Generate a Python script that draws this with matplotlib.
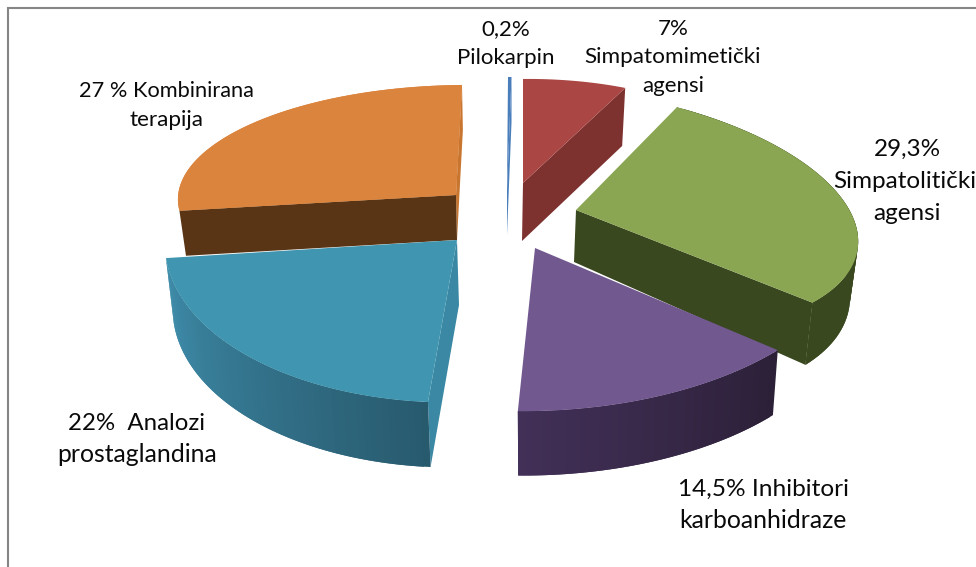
"""Exploded 3D pie of glaucoma drug shares, drawn as plain polygons in pixel space."""
import matplotlib

matplotlib.use("Agg")
import matplotlib.pyplot as plt
import numpy as np
from matplotlib.colors import to_rgb

plt.rcParams["font.family"] = ["Lato", "DejaVu Sans"]

NAMES = ["Pilokarpin", "Simpatomimetički agensi", "Simpatolitički agensi",
         "Inhibitori karboanhidraze", "Analozi prostaglandina", "Kombinirana terapija"]
VALUES = [0.2, 7.0, 29.3, 14.5, 22.0, 27.0]

# text lines of each label, with their centre positions and sizes in separate lists
LABEL_LINES = ["0,2%", "Pilokarpin", "7%", "Simpatomimetički", "agensi",
               "29,3%", "Simpatolitički", "agensi", "14,5% Inhibitori", "karboanhidraze",
               "22%  Analozi", "prostaglandina", "27 % Kombinirana", "terapija"]
LABEL_XY = [(506, 29), (506, 58), (673, 29), (673, 57), (673, 86),
            (907, 149), (905, 181), (907, 213), (763, 489), (763, 520),
            (137, 423), (137, 454), (166, 91), (166, 120)]
LABEL_SIZE = [16, 16, 16, 16.2, 16, 17.5, 17.5, 17.5, 17.6, 17.8, 17.3, 17.8, 15.7, 16.2]

# slice geometry: ellipse basis vectors per slice, the picture is not one clean projection
APEX = [(507, 190), (523, 183), (576, 210), (535, 248), (457, 240), (456, 195)]
CENTER = [(507, 190), (523, 183), (592, 210), (535, 248), (457, 240), (456, 195)]
U = [(280, 0), (240, -3.5), (264, 16), (321, -7.5), (292, 2.3), (278, -2)]
V = [(1, -113), (-3, -104), (-34, -122), (-3, -163), (10.7, -162.5), (6, -110)]
DROP = [(0, 45), (-1, 58), (-2, 52), (0, 66), (2, 65), (1, 45)]
K_BOTTOM = [(1, 1), (0.98, 1), (0.977, 1.11), (0.98, 0.99), (0.98, 1.0), (0.98, 1)]
FACE_AT_END = [True, True, True, None, False, True]
HAS_WALL = [False, False, True, True, True, False]

TOP = ["#4A7EBB", "#AA4643", "#8AA652", "#71588F", "#4096B0", "#DB843D"]
FACE = ["#4A7EBB", "#7E3230", "#39481E", "#2D2038", "#3A88A3", "#C8752F"]
SIDE_A = ["#385D8A", "#7E3230", "#39481E", "#2C2038", "#285A6E", "#5A3515"]
SIDE_B = ["#385D8A", "#7E3230", "#39481E", "#423058", "#3F8DAB", "#5A3515"]
BROWN = "#5A3515"
FRAME = "#868686"


def arc_points(i, t0, t1, n=80, bottom=False):
    t = np.radians(np.linspace(t0, t1, n))
    s, c = np.sin(t), np.cos(t)
    kx, ky = K_BOTTOM[i] if bottom else (1, 1)
    dx, dy = DROP[i] if bottom else (0, 0)
    x = CENTER[i][0] + dx + kx * (s * U[i][0] + c * V[i][0])
    y = CENTER[i][1] + dy + ky * (s * U[i][1] + c * V[i][1])
    return x, y


def draw_slice(ax, i, t0, t1):
    ax_, ay_ = APEX[i]
    dx, dy = DROP[i]
    # flat cut face that turns towards the viewer
    if FACE_AT_END[i] is not None:
        t = t1 if FACE_AT_END[i] else t0
        ex, ey = arc_points(i, t, t, 2)
        bx, by = arc_points(i, t, t, 2, bottom=True)
        ax.fill([ax_, ex[0], bx[0], ax_ + dx], [ay_, ey[0], by[0], ay_ + dy],
                color=FACE[i], lw=0)
    # curved outer wall, split in overlapping strips for the gradient
    if HAS_WALL[i]:
        n = 60
        xt, yt = arc_points(i, t0, t1, n + 1)
        xb, yb = arc_points(i, t0, t1, n + 1, bottom=True)
        c0, c1 = np.array(to_rgb(SIDE_A[i])), np.array(to_rgb(SIDE_B[i]))
        for j in range(n):
            col = c0 + (c1 - c0) * j / (n - 1)
            end = min(j + 3, n + 1)
            ax.fill(np.r_[xt[j:end], xb[j:end][::-1]], np.r_[yt[j:end], yb[j:end][::-1]],
                    color=col, lw=0)
    xa, ya = arc_points(i, t0, t1)
    ax.fill(np.r_[ax_, xa], np.r_[ay_, ya], color=TOP[i], lw=0)


fig = plt.figure(figsize=(9.76, 5.67), dpi=100)
ax = fig.add_axes([0, 0, 1, 1])
ax.set_xlim(0, 976)
ax.set_ylim(567, 0)
ax.axis("off")

ax.plot([7.5, 7.5, 976], [567, 7.5, 7.5], color=FRAME, lw=1.5, solid_joinstyle="miter")

edges = np.r_[0, np.cumsum(VALUES)] * 3.6

# orange goes first: its brown inner wall sits behind everything else
ox, oy = APEX[5]
odx, ody = DROP[5]
bx, by = arc_points(5, edges[5], edges[5], 2)
bbx, bby = arc_points(5, edges[5], edges[5], 2, bottom=True)
draw_slice(ax, 5, edges[5], edges[6])
ax.fill([ox, bx[0], bbx[0], ox + odx], [oy, by[0], bby[0], oy + ody], color=BROWN, lw=0)
xa, ya = arc_points(5, edges[5], edges[6])
ax.fill(np.r_[ox, xa], np.r_[oy, ya], color=TOP[5], lw=0)

for i in range(5):
    draw_slice(ax, i, edges[i], edges[i + 1])

for line, (x, y), size in zip(LABEL_LINES, LABEL_XY, LABEL_SIZE):
    ax.text(x, y, line, ha="center", va="center", fontsize=size, color="#0A0A0A", clip_on=True)

fig.savefig("out.png", dpi=100, facecolor="white")
